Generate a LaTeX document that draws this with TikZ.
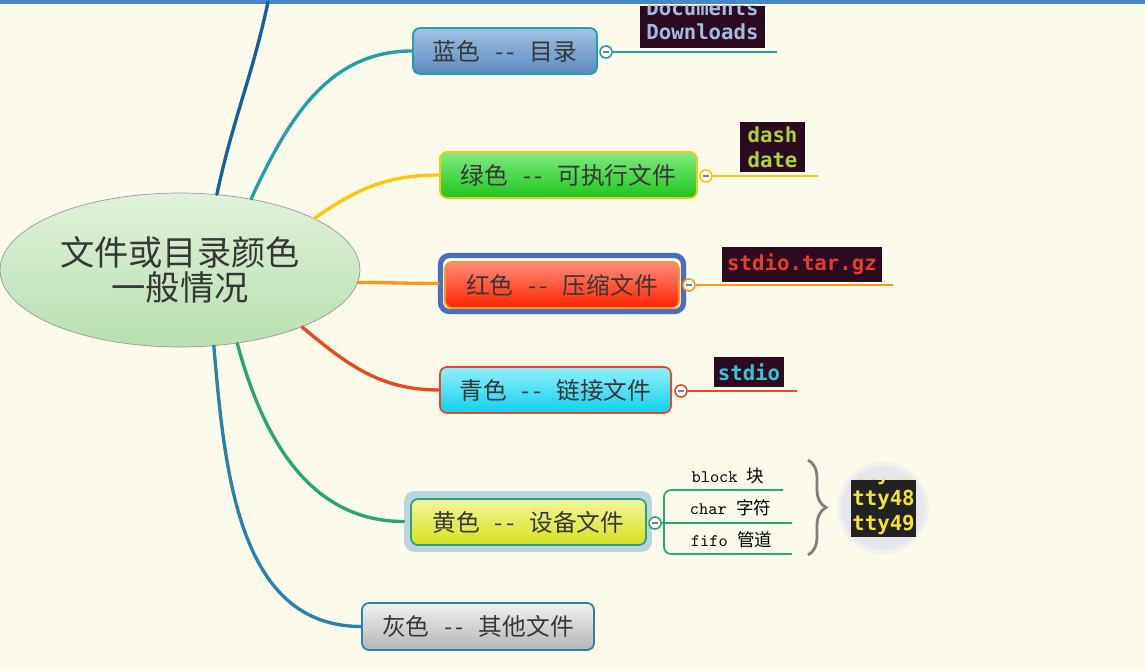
\documentclass[tikz,border=0pt]{standalone}
\usepackage{fontspec}
\setmainfont{Noto Sans CJK SC}
\newfontfamily\termfont{DejaVu Sans Mono}
\usepackage{tikz}
\usetikzlibrary{shapes.geometric, decorations.pathreplacing}
\newcommand{\sepdash}{\hspace{0.62em}-\hspace{0.14em}-\hspace{0.62em}}
\definecolor{paper}{RGB}{252, 250, 234}
\definecolor{topbar}{RGB}{70, 136, 200}
\definecolor{rootTop}{RGB}{224, 242, 218}
\definecolor{rootBot}{RGB}{184, 224, 176}
\definecolor{topictext}{RGB}{55, 55, 55}
\definecolor{upBlue}{RGB}{22, 96, 156}
\definecolor{dirLine}{RGB}{32, 160, 168}
\definecolor{dirTop}{RGB}{160, 194, 230}
\definecolor{dirBot}{RGB}{92, 138, 190}
\definecolor{exeLine}{RGB}{250, 200, 10}
\definecolor{exeTop}{RGB}{128, 236, 128}
\definecolor{exeBot}{RGB}{30, 196, 30}
\definecolor{zipLine}{RGB}{250, 152, 30}
\definecolor{zipTop}{RGB}{255, 140, 122}
\definecolor{zipBot}{RGB}{255, 36, 0}
\definecolor{selBlue}{RGB}{74, 111, 190}
\definecolor{lnkLine}{RGB}{236, 70, 36}
\definecolor{lnkTop}{RGB}{144, 240, 250}
\definecolor{lnkBot}{RGB}{18, 208, 240}
\definecolor{devLine}{RGB}{40, 166, 120}
\definecolor{devTop}{RGB}{246, 246, 156}
\definecolor{devBot}{RGB}{214, 224, 30}
\definecolor{devGlow}{RGB}{188, 212, 224}
\definecolor{othLine}{RGB}{40, 130, 170}
\definecolor{othTop}{RGB}{242, 242, 242}
\definecolor{othBot}{RGB}{180, 180, 184}
\definecolor{termBg}{RGB}{44, 10, 32}
\definecolor{ttyBg}{RGB}{34, 34, 34}
\definecolor{ttyDisc}{RGB}{230, 230, 236}
\definecolor{docText}{RGB}{160, 186, 226}
\definecolor{exeText}{RGB}{168, 212, 58}
\definecolor{zipText}{RGB}{232, 58, 46}
\definecolor{lnkText}{RGB}{52, 198, 210}
\definecolor{ttyText}{RGB}{242, 228, 52}

\begin{document}
\begin{tikzpicture}[x=0.02cm, y=0.02cm,
  topic/.style={rounded corners=4pt, line width=1pt, minimum height=0.92cm,
                inner sep=0pt, text=topictext, font=\fontsize{13.5}{16}\selectfont},
  fold/.style={circle, fill=white, line width=0.9pt, minimum size=0.24cm, inner sep=0pt,
               path picture={\draw[gray, line width=0.6pt]
                 ([xshift=-1.6pt]path picture bounding box.center) --
                 ([xshift=1.6pt]path picture bounding box.center);}},
  branch/.style={line width=1.9pt, line cap=round},
  tail/.style={line width=0.9pt},
  term/.style={inner sep=2pt, align=left,
               font=\termfont\bfseries\fontsize{11.8}{14}\selectfont},
  sub/.style={inner sep=0pt, text=black, font=\fontsize{10}{12}\selectfont},
  subline/.style={line width=1pt, draw=devLine}]

  \useasboundingbox (0,0) rectangle (1145,-671);
  \clip (0,0) rectangle (1145,-671);
  \fill[paper] (0,0) rectangle (1145,-671);
  \fill[topbar] (0,0) rectangle (1145,-4);

  % central topic
  \node[ellipse, draw=gray!80, top color=rootTop, bottom color=rootBot,
        minimum width=7.2cm, minimum height=3.08cm, inner sep=0pt, align=center,
        text=topictext, font=\fontsize{19.5}{20}\selectfont] (root) at (180,-270)
        {文件或目录颜色\\一般情况};

  % main branches
  \node[topic, draw=dirLine, top color=dirTop, bottom color=dirBot,
        minimum width=3.68cm] (dir) at (505,-51) {蓝色\sepdash 目录};
  \node[topic, draw=exeLine, top color=exeTop, bottom color=exeBot,
        minimum width=5.14cm] (exe) at (568.5,-175) {绿色\sepdash 可执行文件};
  \node[draw=selBlue, line width=3pt, rounded corners=5pt, minimum width=4.86cm,
        minimum height=1.12cm] (zipsel) at (562,-283.5) {};
  \node[topic, draw=zipLine, top color=zipTop, bottom color=zipBot,
        minimum width=4.68cm] (zip) at (562,-285) {红色\sepdash 压缩文件};
  \node[topic, draw=lnkLine, top color=lnkTop, bottom color=lnkBot,
        minimum width=4.62cm] (lnk) at (555.5,-390) {青色\sepdash 链接文件};
  \node[fill=devGlow, rounded corners=6pt, minimum width=4.96cm,
        minimum height=1.22cm] (devsel) at (528,-521.5) {};
  \node[topic, draw=devLine, top color=devTop, bottom color=devBot,
        minimum width=4.7cm] (dev) at (528.5,-522) {黄色\sepdash 设备文件};
  \node[topic, draw=othLine, top color=othTop, bottom color=othBot,
        minimum width=4.64cm, minimum height=0.94cm] (oth) at (478,-626.5)
        {灰色\sepdash 其他文件};

  \coordinate (up) at (268,-2);
  \draw[branch, upBlue] (root.64) to[out=78, in=-102] (up);
  \draw[branch, dirLine] (root.45) to[out=65, in=180] (dir.west);
  \draw[branch, exeLine] (root.21) to[out=35, in=180] (exe.west);
  \draw[branch, zipLine] (root.-4) to[out=0, in=180] (zipsel.west);
  \draw[branch, lnkLine] (root.-25) to[out=-40, in=180] (lnk.west);
  \draw[branch, devLine] (root.-52) to[out=-75, in=180] (devsel.west);
  \draw[branch, othLine] (root.-66) to[out=-85, in=180] (oth.west);

  % fold markers and tails
  \node[fold, draw=dirLine] (dirF) at (606,-52) {};
  \node[fold, draw=exeLine] (exeF) at (706,-176) {};
  \node[fold, draw=zipLine] (zipF) at (689,-285) {};
  \node[fold, draw=lnkLine] (lnkF) at (681,-391) {};
  \node[fold, draw=devLine] (devF) at (655,-523) {};
  \coordinate (dirE) at (777,-52);
  \coordinate (exeE) at (818,-176);
  \coordinate (zipE) at (893,-285);
  \coordinate (lnkE) at (797,-391);
  \draw[tail, dirLine] (dirF) -- (dirE);
  \draw[tail, exeLine] (exeF) -- (exeE);
  \draw[tail, zipLine] (zipF) -- (zipE);
  \draw[tail, lnkLine] (lnkF) -- (lnkE);

  % terminal snippets
  \node[fill=termBg, minimum width=2.5cm, minimum height=0.84cm, inner sep=0pt]
        (docs) at (702.5,-27) {};
  \begin{scope}
    \clip (docs.south west) rectangle (docs.north east);
    \node[term, text=docText, inner sep=0pt, anchor=south] (docl)
          at ([yshift=0.16cm]docs.south) {Documents\\Downloads};
  \end{scope}
  \node[term, fill=termBg, text=exeText, minimum width=1.3cm, minimum height=1cm]
        (exes) at (772.5,-147) {dash\\date};
  \node[term, fill=termBg, text=zipText, minimum width=3.2cm, minimum height=0.7cm]
        (zips) at (802,-264.5) {stdio.tar.gz};
  \node[term, fill=termBg, text=lnkText, minimum width=1.4cm, minimum height=0.6cm]
        (lnks) at (749,-372) {stdio};

  % device types
  \node[sub] (blk) at (728,-476) {{\ttfamily block }块};
  \node[sub] (chr) at (730.5,-508) {{\ttfamily char }字符};
  \node[sub] (fif) at (731.5,-540) {{\ttfamily fifo }管道};
  \coordinate (blkE) at (783,-490);
  \coordinate (chrE) at (792,-523);
  \coordinate (fifE) at (792,-554);
  \coordinate (spine) at (664,-523);
  \draw[subline] (devF) -- (chrE);
  \draw[subline, rounded corners=4pt] (blkE) -| (spine) |- (fifE);

  \coordinate (braceT) at (808,-460);
  \coordinate (braceB) at (808,-555);
  \draw[gray, line width=1.6pt, decorate,
        decoration={brace, amplitude=0.36cm}] (braceT) -- (braceB);

  \fill[ttyDisc!50!paper] (883,-508) circle (0.92cm);
  \fill[ttyDisc] (883,-508) circle (0.84cm);
  \node[term, fill=ttyBg, minimum width=1.3cm, minimum height=1.14cm]
        (tty) at (883.5,-508.5) {};
  \begin{scope}
    \clip (tty.south west) rectangle (tty.north east);
    \node[term, text=ttyText] (ttys) at ([yshift=0.17cm]tty.center)
          {tty47\\tty48\\tty49};
  \end{scope}

\end{tikzpicture}
\end{document}
